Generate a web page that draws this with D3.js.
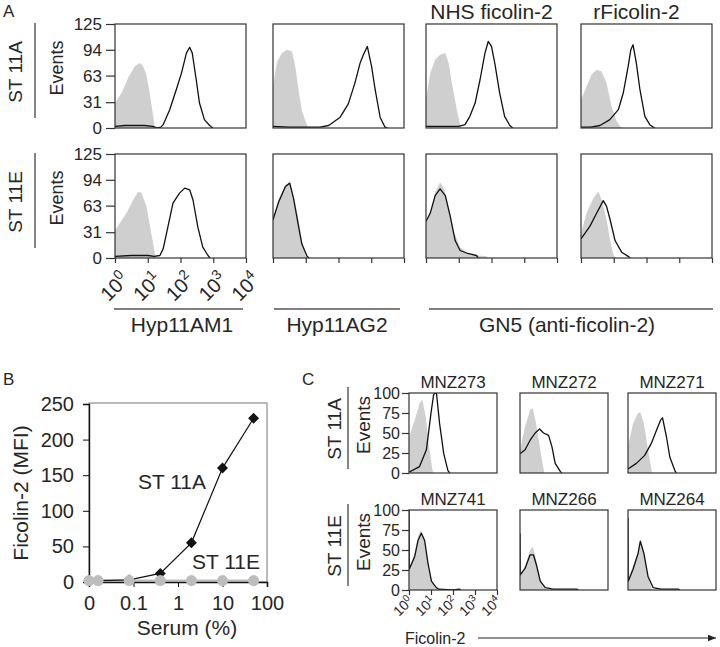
<!DOCTYPE html>
<html><head><meta charset="utf-8">
<script src="https://cdn.jsdelivr.net/npm/d3@7"></script>
<style>body{margin:0;background:#fff}svg{display:block}</style>
</head><body><svg id="c" width="720" height="647"></svg>
<script>
// ---------- Panel A data: [log10 decade, events] ----------
const aColTitles = ["", "", "NHS ficolin-2", "rFicolin-2"];
const aRowLabels = ["ST 11A", "ST 11E"];
const aGroupLabels = ["Hyp11AM1", "Hyp11AG2", "GN5 (anti-ficolin-2)"];
const aEventTicks = [0, 31, 63, 94, 125];
const decadeTicks = [0, 1, 2, 3, 4];

const aTopAM1Gray = [[0,30],[0.2,42],[0.4,60],[0.6,74],[0.75,78],[0.85,75],[0.95,65],[1.05,45],[1.15,18],[1.22,0]];
const aTopAM1Black = [[0,2],[0.3,3],[0.6,3],[0.9,3],[1.15,2],[1.3,0],[1.4,1],[1.47,4],[1.67,22],[1.87,46],[2.03,66],[2.18,90],[2.28,97],[2.36,90],[2.48,58],[2.58,30],[2.73,10],[2.89,3],[2.99,0]];
const aBotAM1Gray = [[0,33],[0.35,54],[0.56,70],[0.71,80],[0.81,78],[0.96,62],[1.11,29],[1.22,5],[1.27,0]];
const aBotAM1Black = [[0,2],[0.5,3],[1.0,3],[1.2,2],[1.37,3],[1.47,11],[1.57,29],[1.77,66],[1.97,78],[2.13,84],[2.28,82],[2.38,70],[2.53,37],[2.68,13],[2.84,3],[2.9,0]];

const aTopAG2Gray = [[0,50],[0.12,79],[0.27,90],[0.43,94],[0.58,92],[0.68,74],[0.78,46],[0.88,21],[1.04,3],[1.1,0]];
const aTopAG2Black = [[0,2],[0.5,1],[1.0,1],[1.44,1],[1.7,3],[2.05,13],[2.3,29],[2.5,54],[2.66,78],[2.76,88],[2.88,98],[3.01,74],[3.12,46],[3.27,13],[3.42,1],[3.5,0]];
const aBotAG2Gray = [[0,46],[0.17,71],[0.38,88],[0.53,90],[0.63,75],[0.78,46],[0.88,21],[0.99,3],[1.05,0]];
const aBotAG2Black = [[0,46],[0.17,67],[0.38,86],[0.51,90],[0.63,71],[0.78,38],[0.88,17],[1.04,2],[1.1,0]];

const aTopNhsGray = [[0,34],[0.13,66],[0.28,82],[0.43,88],[0.59,90],[0.69,78],[0.79,54],[0.94,22],[1.04,4],[1.1,0]];
const aTopNhsBlack = [[0,2],[0.5,2],[1.0,2],[1.19,4],[1.34,14],[1.5,30],[1.65,58],[1.8,90],[1.9,104],[2.0,98],[2.1,78],[2.25,42],[2.4,14],[2.56,3],[2.65,0]];
const aBotNhsGray = [[0,42],[0.13,54],[0.28,79],[0.43,91],[0.54,84],[0.69,62],[0.84,33],[1.04,13],[1.34,4],[1.85,2],[1.9,0]];
const aBotNhsBlack = [[0,44],[0.13,54],[0.28,75],[0.43,83],[0.59,75],[0.74,50],[0.89,21],[1.04,9],[1.24,6],[1.54,3],[1.6,0]];

const aTopRfGray = [[0,34],[0.17,50],[0.32,64],[0.48,70],[0.63,68],[0.78,54],[0.93,26],[1.09,8],[1.19,2],[1.25,0]];
const aTopRfBlack = [[0,1],[0.3,1],[0.58,3],[0.88,10],[1.14,22],[1.29,42],[1.44,74],[1.52,94],[1.59,100],[1.69,78],[1.8,46],[1.95,14],[2.1,4],[2.25,0]];
const aBotRfGray = [[0,29],[0.17,54],[0.38,72],[0.53,80],[0.63,70],[0.78,46],[0.89,21],[0.99,4],[1.05,0]];
const aBotRfBlack = [[0,23],[0.27,38],[0.48,54],[0.68,69],[0.78,62],[0.89,46],[1.04,21],[1.24,7],[1.44,2],[1.5,0]];

// ---------- Panel B data ----------
const serumPct = [0, 0.016, 0.08, 0.4, 2, 10, 50];
const mfiST11A = [2, 2, 3, 12, 55, 160, 230];
const mfiST11E = [2, 2, 2, 2, 2, 2, 2];
const serumTicks = [0, 0.1, 1, 10, 100];
const mfiTicks = [0, 50, 100, 150, 200, 250];

// ---------- Panel C data ----------
const cTitlesTop = ["MNZ273", "MNZ272", "MNZ271"];
const cTitlesBot = ["MNZ741", "MNZ266", "MNZ264"];
const cEventTicks = [0, 25, 50, 75, 100];
const cTop273Gray = [[0,45],[0.26,66],[0.48,87],[0.6,92],[0.76,71],[0.91,33],[1.06,5],[1.1,0]];
const cTop273Black = [[0,1],[0.48,8],[0.79,29],[1.0,75],[1.12,98],[1.24,102],[1.39,62],[1.58,24],[1.77,3],[1.85,0]];
const cTop272Gray = [[0,29],[0.23,58],[0.46,79],[0.58,81],[0.73,62],[0.92,29],[1.07,5],[1.12,0]];
const cTop272Black = [[0,24],[0.23,29],[0.46,41],[0.69,50],[0.89,55],[1.07,50],[1.3,47],[1.45,33],[1.6,12],[1.83,2],[1.9,0]];
const cTop271Gray = [[0,33],[0.23,62],[0.46,75],[0.56,76],[0.72,62],[0.91,29],[1.06,5],[1.1,0]];
const cTop271Black = [[0,5],[0.38,12],[0.76,22],[1.06,37],[1.29,53],[1.48,66],[1.57,69],[1.75,45],[1.9,20],[2.13,3],[2.2,0]];
const cBot741Gray = [[0,26],[0.26,46],[0.41,67],[0.53,75],[0.67,67],[0.82,42],[0.97,17],[1.17,3],[1.25,0]];
const cBot741Black = [[0,102],[0.01,26],[0.26,42],[0.41,62],[0.56,71],[0.71,62],[0.86,34],[1.02,11],[1.24,3],[1.35,1],[2.0,0],[2.3,1],[2.35,0]];
const cBot266Gray = [[0,19],[0.23,30],[0.46,50],[0.58,54],[0.73,38],[0.92,13],[1.15,2],[1.2,0]];
const cBot266Black = [[0,71],[0.01,19],[0.23,27],[0.46,44],[0.61,44],[0.76,30],[0.92,11],[1.15,3],[1.5,1],[2.6,1],[2.65,0]];
const cBot264Gray = [[0,13],[0.23,30],[0.46,48],[0.56,59],[0.72,46],[0.91,17],[1.06,3],[1.1,0]];
const cBot264Black = [[0,90],[0.01,11],[0.23,26],[0.46,46],[0.56,61],[0.72,46],[0.91,17],[1.14,3],[1.5,1],[2.3,1],[2.35,0]];

// ---------- drawing ----------
const FONT = "'Liberation Sans', Arial, Helvetica, sans-serif";
const INK = "#262626";
const svg = d3.select("#c").attr("font-family", FONT);
let clipN = 0;

function histPanel(x0, y0, w, h, yMax, gray, black) {
  const x = d3.scaleLinear().domain([0, 4]).range([x0, x0 + w]);
  const y = d3.scaleLinear().domain([0, yMax]).range([y0 + h, y0]);
  const id = "clip" + (clipN++);
  svg.append("clipPath").attr("id", id).append("rect")
    .attr("x", x0).attr("y", y0).attr("width", w).attr("height", h);
  const g = svg.append("g").attr("clip-path", `url(#${id})`);
  g.append("path").datum(gray)
    .attr("d", d3.area().x(d => x(d[0])).y0(y(0)).y1(d => y(d[1])))
    .attr("fill", "#cfcfcf");
  g.append("path").datum(black)
    .attr("d", d3.line().x(d => x(d[0])).y(d => y(d[1])))
    .attr("fill", "none").attr("stroke", "#111").attr("stroke-width", 1.3)
    .attr("stroke-linejoin", "round");
  svg.append("rect").attr("x", x0).attr("y", y0).attr("width", w).attr("height", h)
    .attr("fill", "none").attr("stroke", "#333").attr("stroke-width", 1.2);
  return { x, y };
}

function styleAxis(g, size) {
  g.select(".domain").remove();
  g.selectAll("line").attr("stroke", "#333").attr("stroke-width", 1.2);
  g.selectAll("text").attr("fill", INK).attr("font-size", size).attr("font-family", FONT);
}

function leftTicks(s, ticks, x0, len, pad, size) {
  const g = svg.append("g").attr("transform", `translate(${x0},0)`)
    .call(d3.axisLeft(s.y).tickValues(ticks).tickSize(len).tickPadding(pad));
  styleAxis(g, size);
}

function bottomTicks(s, yb, len) {
  const g = svg.append("g").attr("transform", `translate(0,${yb})`)
    .call(d3.axisBottom(s.x).tickValues(decadeTicks).tickSize(len).tickFormat(""));
  styleAxis(g, 10);
}

function decadeLabels(s, yb, dx, dy, main, sup, supDy) {
  decadeTicks.forEach(t => {
    const tx = svg.append("text")
      .attr("transform", `translate(${s.x(t) + dx},${yb + dy}) rotate(-45)`)
      .attr("text-anchor", "end").attr("fill", INK).attr("font-size", main);
    tx.append("tspan").text("10");
    tx.append("tspan").attr("font-size", sup).attr("dy", supDy).text(String(t));
  });
}

function rotLabel(txt, x, y, size) {
  svg.append("text").attr("transform", `translate(${x},${y}) rotate(-90)`)
    .attr("text-anchor", "middle").attr("font-size", size).attr("fill", INK).text(txt);
}
function label(txt, x, y, size, anchor) {
  svg.append("text").attr("x", x).attr("y", y).attr("text-anchor", anchor || "middle")
    .attr("font-size", size).attr("fill", INK).text(txt);
}
function hline(x1, x2, y) {
  svg.append("line").attr("x1", x1).attr("x2", x2).attr("y1", y).attr("y2", y)
    .attr("stroke", "#555").attr("stroke-width", 1.3);
}
function vline(x, y1, y2) {
  svg.append("line").attr("x1", x).attr("x2", x).attr("y1", y1).attr("y2", y2)
    .attr("stroke", "#444").attr("stroke-width", 1.3);
}

// ===== Panel A =====
const aColX = [115, 273, 426, 581];
const aW = 131;
const aRowY = [24, 154];
const aH = 104;
const aData = [
  [[aTopAM1Gray, aTopAM1Black], [aTopAG2Gray, aTopAG2Black], [aTopNhsGray, aTopNhsBlack], [aTopRfGray, aTopRfBlack]],
  [[aBotAM1Gray, aBotAM1Black], [aBotAG2Gray, aBotAG2Black], [aBotNhsGray, aBotNhsBlack], [aBotRfGray, aBotRfBlack]]
];
label("A", 3, 17, 17, "start");
aRowY.forEach((y0, r) => {
  aColX.forEach((x0, c) => {
    const s = histPanel(x0, y0, aW, aH, 125, aData[r][c][0], aData[r][c][1]);
    if (c === 0) leftTicks(s, aEventTicks, x0, 9, 4, 17);
    if (r === 1) {
      bottomTicks(s, y0 + aH, 5);
      if (c === 0) decadeLabels(s, y0 + aH, 15, 23, 20, 14, -8);
    }
  });
  rotLabel("Events", 63, y0 + 44, 18);
  rotLabel(aRowLabels[r], 22, y0 + 48, 19);
  vline(35, y0 - 1, y0 + 94);
});
aColTitles.forEach((t, c) => { if (t) label(t, aColX[c] + aW / 2 - (c === 3 ? 10 : 0), 19, 21); });
hline(114, 243, 309); label(aGroupLabels[0], 182, 332, 21);
hline(274, 400, 309); label(aGroupLabels[1], 337, 332, 21);
hline(429, 713, 309); label(aGroupLabels[2], 567, 332, 21);

// ===== Panel B =====
label("B", 3, 385, 17, "start");
const bx = d3.scaleLog().domain([0.01, 100]).range([89, 267]);
const by = d3.scaleLinear().domain([0, 250]).range([582, 404]);
const bxv = v => bx(v === 0 ? 0.01 : v);
svg.append("rect").attr("x", 89).attr("y", 403).attr("width", 178).attr("height", 179)
  .attr("fill", "none").attr("stroke", "#777").attr("stroke-width", 1);
const bYAxis = svg.append("g").attr("transform", "translate(89,0)")
  .call(d3.axisLeft(by).tickValues(mfiTicks).tickSize(6).tickPadding(9));
bYAxis.select(".domain").attr("stroke", "#111").attr("stroke-width", 1.4);
bYAxis.selectAll("line").attr("stroke", "#111");
bYAxis.selectAll("text").attr("font-size", 20).attr("fill", INK).attr("font-family", FONT);
const bXAxis = svg.append("g").attr("transform", "translate(0,582)")
  .call(d3.axisBottom(bx).tickValues(serumTicks.map(v => v === 0 ? 0.01 : v)).tickSize(5).tickPadding(9)
    .tickFormat((d, i) => String(serumTicks[i])));
bXAxis.select(".domain").attr("stroke", "#111").attr("stroke-width", 1.6);
bXAxis.selectAll("line").attr("stroke", "#111");
bXAxis.selectAll("text").attr("font-size", 20).attr("fill", INK).attr("font-family", FONT);

const bLine = d3.line().x((d, i) => bxv(serumPct[i])).y(d => by(d));
svg.append("path").datum(mfiST11E).attr("d", bLine).attr("fill", "none").attr("stroke", "#bbb").attr("stroke-width", 2);
svg.append("path").datum(mfiST11A).attr("d", bLine).attr("fill", "none").attr("stroke", "#111").attr("stroke-width", 1.2);
svg.selectAll(".dia").data(mfiST11A).enter().append("path")
  .attr("d", d3.symbol(d3.symbolSquare).size(60))
  .attr("transform", (d, i) => `translate(${bxv(serumPct[i])},${by(d)}) rotate(45)`)
  .attr("fill", "#111");
svg.selectAll(".dot").data(mfiST11E).enter().append("circle")
  .attr("cx", (d, i) => bxv(serumPct[i])).attr("cy", d => by(d)).attr("r", 5.5)
  .attr("fill", "#bdbdbd");
label("ST 11A", 172, 489, 21);
label("ST 11E", 226, 569, 21);
rotLabel("Ficolin-2 (MFI)", 28, 493, 21);
label("Serum (%)", 187, 635, 21);

// ===== Panel C =====
label("C", 302, 385, 17, "start");
const cColX = [409, 520, 628];
const cW = 88;
const cRowY = [393, 510];
const cH = 80;
const cData = [
  [[cTop273Gray, cTop273Black], [cTop272Gray, cTop272Black], [cTop271Gray, cTop271Black]],
  [[cBot741Gray, cBot741Black], [cBot266Gray, cBot266Black], [cBot264Gray, cBot264Black]]
];
const cTitles = [cTitlesTop, cTitlesBot];
cRowY.forEach((y0, r) => {
  cColX.forEach((x0, c) => {
    const s = histPanel(x0, y0, cW, cH, 100, cData[r][c][0], cData[r][c][1]);
    if (c === 0) leftTicks(s, cEventTicks, x0, 7, 2, 16);
    if (r === 1 && c === 0) {
      bottomTicks(s, y0 + cH, 5);
      decadeLabels(s, y0 + cH, 5, 12, 14, 10, -5);
    }
    label(cTitles[r][c], x0 + cW / 2, y0 - 5, 17);
  });
  rotLabel("Events", 370, y0 + 32, 19);
  rotLabel(aRowLabels[r], 341, y0 + 36, 19);
  vline(348, y0 - 6, y0 + 76);
});
label("Ficolin-2", 405, 644, 16, "start");
svg.append("defs").append("marker").attr("id", "arr").attr("viewBox", "0 0 10 10")
  .attr("refX", 10).attr("refY", 5).attr("markerWidth", 8).attr("markerHeight", 8)
  .attr("markerUnits", "userSpaceOnUse").attr("orient", "auto")
  .append("path").attr("d", "M0,1 L10,5 L0,9 Z").attr("fill", "#222");
svg.append("line").attr("x1", 478).attr("x2", 716).attr("y1", 638).attr("y2", 638)
  .attr("stroke", "#222").attr("stroke-width", 1.1).attr("marker-end", "url(#arr)");
</script>
</body></html>
